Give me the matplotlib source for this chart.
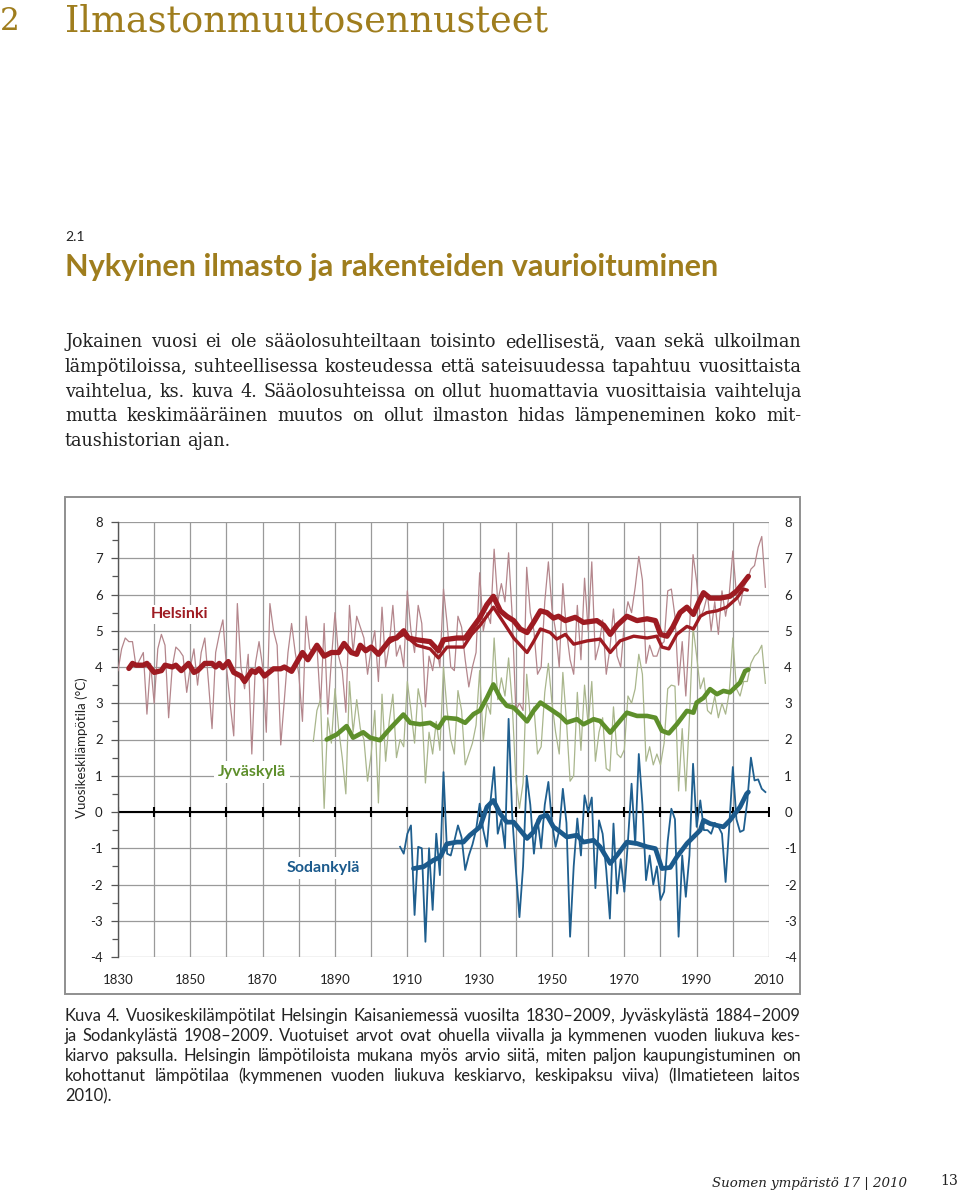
import unicodedata
import numpy as np
import matplotlib
matplotlib.use('Agg')
from matplotlib import pyplot as plt
from matplotlib.patches import Rectangle

plt.rcParams['axes.unicode_minus'] = False

W, H = 960, 1194
GOLD = '#9f7d1d'
TXT = '#222222'

# Helsinki annual mean temperature 1830-2009 (thin line)
hki_annual = [
    3.9, 4.5, 4.8, 4.7, 4.7, 4.0, 4.2, 4.4, 2.7, 4.1,
    3.0, 4.5, 4.9, 4.6, 2.6, 4.0, 4.55, 4.45, 4.3, 3.3,
    4.0, 4.5, 3.5, 4.4, 4.8, 3.6, 2.3, 4.4, 4.9, 5.3,
    4.0, 3.0, 2.1, 5.75, 4.0, 3.4, 4.35, 1.6, 4.1, 4.7,
    4.0, 2.2, 5.75, 5.0, 4.6, 1.85, 3.1, 4.4, 5.2, 4.4,
    3.8, 2.5, 5.4, 4.5, 4.4, 4.6, 2.9, 5.2, 2.7, 4.2,
    5.5, 4.3, 3.9, 2.75, 5.7, 4.4, 5.4, 5.1, 4.8, 3.8,
    4.5, 5.0, 3.6, 5.65, 4.0, 4.6, 5.7, 4.3, 4.6, 4.0,
    6.1, 5.0, 4.4, 5.7, 5.2, 2.9, 4.3, 3.9, 4.6, 4.0,
    6.15, 5.2, 4.0, 3.9, 5.4, 5.1, 4.2, 3.45, 4.0, 4.4,
    6.6, 5.0, 5.5, 5.2, 7.25, 5.8, 6.3, 5.8, 7.15, 5.4,
    2.8, 3.0, 2.8, 6.75, 5.5, 5.0, 3.8, 4.0, 5.8, 6.9,
    5.6, 5.0, 4.0, 6.3, 5.0, 4.2, 3.8, 5.7, 4.2, 6.45,
    5.0, 6.9, 4.2, 4.6, 5.3, 3.8, 4.5, 5.6, 4.3, 4.0,
    5.2, 5.8, 5.5, 6.2, 7.05, 6.4, 4.1, 4.6, 4.3, 4.3,
    4.6, 4.7, 6.1, 6.15, 5.4, 3.5, 4.7, 3.2, 5.0, 7.1,
    6.35, 5.35, 5.6, 6.0, 5.0, 5.8, 4.9, 6.1, 5.4, 6.0,
    7.2, 6.0, 5.7, 6.2, 6.4, 6.7, 6.8, 7.3, 7.6, 6.2,
]
hki_years = np.arange(1830, 1830 + len(hki_annual))

# Helsinki 10-year moving average (thick line)
hki_ma_years = [1833, 1834, 1835, 1837, 1838, 1840, 1842, 1843, 1845, 1846,
                1847.5, 1849.5, 1851, 1852, 1854, 1856, 1857, 1858, 1859, 1860.5,
                1862, 1864, 1865, 1867, 1868, 1869, 1870.5, 1873, 1875, 1876,
                1878, 1881, 1882.5, 1885, 1887, 1889, 1891, 1892.5, 1894.5, 1896,
                1897, 1898.5, 1900, 1902, 1904, 1905.3, 1907, 1909, 1910.3, 1912.6,
                1916.3, 1918.6, 1920, 1923.7, 1926, 1927.8, 1930, 1932, 1933.8, 1935.7,
                1937.5, 1939.4, 1941.2, 1943.1, 1944.9, 1946.8, 1948.6, 1950.4, 1951.8, 1953.7,
                1956.4, 1958.7, 1962.4, 1964.3, 1966.1, 1968, 1970.7, 1973.5, 1976.3, 1978.6,
                1980, 1981.8, 1983.4, 1985.4, 1987.3, 1989.1, 1990.5, 1991.9, 1993.7, 1996.5,
                1999.2, 2001.1, 2002.9, 2004.3]
hki_ma = [3.96, 4.1, 4.05, 4.05, 4.1, 3.85, 3.9, 4.05, 4.0, 4.05,
          3.9, 4.1, 3.85, 3.9, 4.1, 4.1, 4.0, 4.1, 3.98, 4.15,
          3.85, 3.75, 3.6, 3.9, 3.85, 3.95, 3.75, 3.95, 3.95, 4.0,
          3.88, 4.4, 4.2, 4.6, 4.3, 4.4, 4.4, 4.65, 4.4, 4.35,
          4.6, 4.45, 4.55, 4.35, 4.6, 4.77, 4.8, 5.0, 4.8, 4.75,
          4.7, 4.45, 4.75, 4.8, 4.8, 5.05, 5.35, 5.72, 5.95, 5.55,
          5.4, 5.28, 5.05, 4.95, 5.23, 5.55, 5.5, 5.35, 5.4, 5.28,
          5.37, 5.23, 5.28, 5.15, 4.9, 5.15, 5.4, 5.28, 5.33, 5.28,
          4.9, 4.85, 5.1, 5.5, 5.65, 5.45, 5.77, 6.05, 5.9, 5.9,
          5.95, 6.1, 6.32, 6.5]

# Helsinki moving average without urbanisation effect (medium line)
hki_urb_years = [1900, 1902, 1904, 1905.3, 1909, 1912.6, 1916.3, 1918.6, 1921, 1925.5,
                 1927.8, 1930.1, 1933.8, 1936.6, 1939.4, 1943.1, 1944.9, 1946.8, 1949.5, 1951.3,
                 1953.7, 1956, 1959.7, 1963.3, 1966.1, 1968.8, 1972.6, 1976.3, 1979, 1980.4,
                 1982.3, 1984.5, 1987.3, 1989.1, 1991, 1992.8, 1995.6, 1998.3, 2001.1, 2002.9,
                 2004]
hki_urb = [4.55, 4.35, 4.6, 4.7, 4.9, 4.6, 4.5, 4.25, 4.55, 4.55,
           4.9, 5.15, 5.65, 5.23, 4.8, 4.4, 4.7, 5.05, 4.95, 4.77,
           4.9, 4.63, 4.72, 4.77, 4.4, 4.72, 4.85, 4.8, 4.85, 4.55,
           4.5, 4.9, 5.12, 5.05, 5.4, 5.5, 5.55, 5.65, 5.9, 6.15,
           6.12]

# Jyvaskyla annual mean temperature 1884-2009
jyv_annual = [
    1.95, 2.8, 3.1, 0.1, 2.6, 1.9, 3.4, 2.3, 1.5, 0.5,
    3.6, 2.2, 3.1, 2.3, 2.0, 0.85, 1.6, 2.8, 0.25, 3.25,
    1.4, 2.5, 3.25, 1.5, 2.0, 1.8, 3.6, 2.8, 1.9, 3.4,
    2.9, 0.8, 2.2, 1.6, 2.5, 1.7, 4.0, 2.8, 2.0, 1.6,
    3.35, 2.8, 1.3, 1.6, 1.9, 2.4, 3.9, 1.95, 3.0, 2.7,
    4.8, 3.1, 3.7, 3.2, 4.25, 3.0, 0.9, 0.1, 0.8, 3.8,
    2.6, 2.9, 1.6, 1.8, 3.3, 4.1, 3.0, 2.2, 1.6, 3.85,
    2.5, 0.85, 1.0, 3.3, 1.7, 3.5, 2.4, 3.6, 1.4, 2.2,
    2.6, 1.2, 1.13, 2.9, 1.6, 1.5, 1.72, 3.2, 3.0, 3.4,
    4.35, 3.8, 1.4, 1.8, 1.3, 1.6, 1.3, 1.9, 3.4, 3.5,
    3.47, 0.58, 2.3, 0.58, 2.6, 5.1, 4.3, 3.4, 3.7, 2.8,
    2.7, 3.2, 2.6, 3.0, 2.7, 3.3, 4.8, 3.4, 3.2, 3.6,
    3.6, 4.1, 4.3, 4.4, 4.6, 3.55,
]
jyv_years = np.arange(1884, 1884 + len(jyv_annual))

jyv_ma_years = [1887.7, 1890.5, 1893.2, 1895, 1897.8, 1899.7, 1902.4, 1905.2, 1907.1, 1908.9,
                1910.8, 1913.5, 1916.3, 1918.6, 1920.4, 1923.7, 1926, 1928.3, 1930.1, 1932,
                1933.8, 1935.7, 1937.5, 1939.4, 1941.2, 1943.1, 1944.9, 1946.8, 1949.5, 1952.3,
                1954.1, 1956.9, 1958.7, 1961.5, 1963.3, 1966.1, 1968, 1970.7, 1973.5, 1976.3,
                1978.6, 1980.4, 1982.3, 1984.5, 1987.3, 1989.1, 1990, 1991.9, 1993.7, 1995.6,
                1997.4, 1999.2, 2002, 2003.4, 2004.3]
jyv_ma = [2.0, 2.14, 2.37, 2.05, 2.2, 2.05, 1.98, 2.3, 2.5, 2.69,
          2.46, 2.42, 2.46, 2.32, 2.6, 2.57, 2.46, 2.7, 2.8, 3.15,
          3.52, 3.15, 2.93, 2.88, 2.7, 2.5, 2.79, 3.02, 2.84, 2.65,
          2.47, 2.56, 2.42, 2.56, 2.51, 2.19, 2.42, 2.74, 2.65, 2.65,
          2.6, 2.24, 2.17, 2.42, 2.79, 2.74, 3.02, 3.15, 3.39, 3.25,
          3.34, 3.3, 3.57, 3.89, 3.93]

# Sodankyla annual mean temperature 1908-2009
sod_annual = [
    -0.96, -1.15, -0.6, -0.37, -2.84, -0.96, -1.0, -3.58, -1.0, -2.7,
    -0.6, -1.74, 1.1, -1.15, -1.2, -0.8, -0.37, -0.7, -1.6, -1.2,
    -0.9, -0.5, 0.23, -0.5, -0.96, 0.3, 1.24, -0.6, -0.2, -1.0,
    2.57, -0.1, -1.6, -2.9, -1.5, 1.0, 0.2, -1.15, -0.2, -1.0,
    0.2, 0.83, -0.3, -0.96, -0.5, 0.64, -0.3, -3.44, -1.5, -0.18,
    -1.2, 0.46, 0.0, 0.4, -2.1, -0.23, -0.6, -1.6, -2.94, -0.32,
    -2.25, -1.3, -2.2, -0.8, 0.78, -0.9, 1.6, 0.2, -1.88, -1.2,
    -2.0, -1.5, -2.43, -2.2, -0.8, 0.09, -0.2, -3.44, -1.2, -2.34,
    -1.2, 1.33, -0.41, 0.32, -0.5, -0.5, -0.6, -0.3, -0.4, -0.6,
    -1.93, -0.4, 1.24, -0.2, -0.55, -0.5, 0.3, 1.5, 0.87, 0.9,
    0.64, 0.55,
]
sod_years = np.arange(1908, 1908 + len(sod_annual))

sod_ma_years = [1911.7, 1914.5, 1917.2, 1919.1, 1920.9, 1923.7, 1925.5, 1927.3, 1930.1, 1932,
                1933.8, 1935.7, 1937.5, 1939.4, 1941.2, 1943.1, 1944.9, 1946.8, 1948.6, 1950.4,
                1952.3, 1954.1, 1956.9, 1958.7, 1961.5, 1963.3, 1966.1, 1968, 1970.7, 1973.5,
                1976.3, 1978.6, 1980.4, 1982.7, 1984.5, 1987.3, 1989.1, 1991, 1991.9, 1993.7,
                1995.6, 1997.4, 1999.2, 2002, 2003.8, 2004.3]
sod_ma = [-1.56, -1.51, -1.33, -1.24, -0.88, -0.83, -0.83, -0.64, -0.41, 0.14,
          0.32, -0.05, -0.28, -0.28, -0.5, -0.73, -0.55, -0.14, -0.09, -0.41,
          -0.55, -0.69, -0.64, -0.83, -0.78, -0.96, -1.42, -1.19, -0.83, -0.87,
          -0.96, -1.01, -1.56, -1.53, -1.24, -0.87, -0.69, -0.5, -0.23, -0.32,
          -0.37, -0.41, -0.23, 0.14, 0.5, 0.55]

x_ticks = list(range(1830, 2011, 10))
x_labels = [str(y) if (y - 1830) % 20 == 0 else '' for y in x_ticks]
y_ticks = list(range(-4, 9))

body_lines = [
    'Jokainen vuosi ei ole sääolosuhteiltaan toisinto edellisestä, vaan sekä ulkoilman',
    'lämpötiloissa, suhteellisessa kosteudessa että sateisuudessa tapahtuu vuosittaista',
    'vaihtelua, ks. kuva 4. Sääolosuhteissa on ollut huomattavia vuosittaisia vaihteluja',
    'mutta keskimääräinen muutos on ollut ilmaston hidas lämpeneminen koko mit-',
    'taushistorian ajan.',
]
caption_lines = [
    'Kuva 4. Vuosikeskilämpötilat Helsingin Kaisaniemessä vuosilta 1830–2009, Jyväskylästä 1884–2009',
    'ja Sodankylästä 1908–2009. Vuotuiset arvot ovat ohuella viivalla ja kymmenen vuoden liukuva kes-',
    'kiarvo paksulla. Helsingin lämpötiloista mukana myös arvio siitä, miten paljon kaupungistuminen on',
    'kohottanut lämpötilaa (kymmenen vuoden liukuva keskiarvo, keskipaksu viiva) (Ilmatieteen laitos',
    '2010).',
]
body_lines = [unicodedata.normalize('NFC', s) for s in body_lines]
caption_lines = [unicodedata.normalize('NFC', s) for s in caption_lines]


def fx(px):
    return px / W


def fy(py):
    return 1 - py / H


def textWidth(fig, renderer, s, **kw):
    t = fig.text(0, 0, s, **kw)
    w = t.get_window_extent(renderer).width
    t.remove()
    return w


def fitSize(fig, renderer, s, width, size, **kw):
    w = textWidth(fig, renderer, s, fontsize=size, **kw)
    return size * width / w


def fitText(fig, renderer, s, x0, x1, y, size, **kw):
    # scale the font so the text spans x0..x1
    size = fitSize(fig, renderer, s, x1 - x0, size, **kw)
    fig.text(fx(x0), fy(y), s, fontsize=size, ha='left', va='center', **kw)


def justifyLine(fig, renderer, s, x0, x1, y, justify=True, **kw):
    # y is the baseline of the line
    words = s.split(' ')
    widths = [textWidth(fig, renderer, w, **kw) for w in words]
    space = textWidth(fig, renderer, 'a a', **kw) - textWidth(fig, renderer, 'aa', **kw)
    if justify and len(words) > 1:
        gap = (x1 - x0 - sum(widths)) / (len(words) - 1)
    else:
        gap = space
    x = x0
    for w, wd in zip(words, widths):
        fig.text(fx(x), fy(y), w, ha='left', va='baseline', **kw)
        x += wd + gap


fig = plt.figure(figsize=(W / 100, H / 100), dpi=100)
fig.patch.set_facecolor('white')
renderer = fig.canvas.get_renderer()

# page header
fitText(fig, renderer, '2', 0, 20, 22, 30, family='DejaVu Serif', color=GOLD)
fitText(fig, renderer, 'Ilmastonmuutosennusteet', 65, 548, 22, 30,
        family='DejaVu Serif', color=GOLD)
fig.text(fx(65), fy(237), '2.1', fontsize=10, family='Lato', color=TXT,
         ha='left', va='center')
fitText(fig, renderer, 'Nykyinen ilmasto ja rakenteiden vaurioituminen', 65, 717, 267, 19,
        family='Lato', weight='bold', color=GOLD)

body_size = min(fitSize(fig, renderer, line, 728, 12, family='DejaVu Serif')
                for line in body_lines[:3])
body_kw = dict(family='DejaVu Serif', fontsize=body_size, color=TXT)
for i, line in enumerate(body_lines):
    justifyLine(fig, renderer, line, 65, 801, 347 + i * 24.8,
                justify=(i < len(body_lines) - 1), **body_kw)

cap_size = min(fitSize(fig, renderer, line, 728, 12, family='Lato')
               for line in caption_lines[:4])
cap_kw = dict(family='Lato', fontsize=cap_size, color=TXT)
for i, line in enumerate(caption_lines):
    justifyLine(fig, renderer, line, 65, 801, 1021 + i * 20,
                justify=(i < len(caption_lines) - 1), **cap_kw)

fitText(fig, renderer, 'Suomen ympäristö 17 | 2010', 712, 908, 1183, 11,
        family='DejaVu Serif', style='italic', color=TXT)
fitText(fig, renderer, '13', 940, 958, 1181, 12, family='DejaVu Serif', color=TXT)

# chart frame
fig.patches.append(Rectangle((fx(65), fy(994)), (800 - 65) / W, (994 - 497) / H,
                             transform=fig.transFigure, fill=False,
                             ec='#8f8f8f', lw=1.4))

ax = fig.add_axes([fx(118), fy(957), (769 - 118) / W, (957 - 522) / H])
ax.set_xlim(1830, 2010)
ax.set_ylim(-4, 8)
ax.set_facecolor('none')
for side in ['top', 'right', 'bottom']:
    ax.spines[side].set_visible(False)
ax.spines['left'].set_color('#555555')
ax.spines['left'].set_linewidth(1.0)

ax.set_xticks(x_ticks)
ax.set_xticklabels(x_labels)
ax.set_yticks(y_ticks)
ax.set_yticks(np.arange(-3.5, 8, 1.0), minor=True)
ax.tick_params(axis='x', length=0, pad=12, labelsize=9.5, labelcolor=TXT)
ax.tick_params(axis='y', which='major', length=5, width=0.9, color='#555555',
               labelsize=9.5, labelcolor=TXT, pad=6, labelright=True, right=False)
ax.tick_params(axis='y', which='minor', length=4, width=0.9, color='#555555', right=False)
for lab in ax.get_xticklabels() + ax.get_yticklabels():
    lab.set_family('Lato')
ax.grid(True, which='major', color='#9a9a9a', lw=0.9)
ax.set_axisbelow(True)

ax.axhline(0, color='black', lw=1.5, zorder=2)
ax.plot(x_ticks, np.zeros(len(x_ticks)), ls='none', marker='|', ms=7, mew=1.5,
        color='black', zorder=2)

# thin annual lines
ax.plot(hki_years, hki_annual, color='#b4868c', lw=0.9, zorder=3)
ax.plot(jyv_years, jyv_annual, color='#a9b68c', lw=0.9, zorder=3)
ax.plot(sod_years, sod_annual, color='#1f5f8f', lw=1.3, zorder=3)

# moving averages
ax.plot(hki_urb_years, hki_urb, color='#9e1b22', lw=2.4, zorder=4,
        solid_capstyle='round')
ax.plot(hki_ma_years, hki_ma, color='#9e1b22', lw=3.8, zorder=5,
        solid_capstyle='round', solid_joinstyle='round')
ax.plot(jyv_ma_years, jyv_ma, color='#5e8f2b', lw=3.3, zorder=5,
        solid_capstyle='round', solid_joinstyle='round')
ax.plot(sod_ma_years, sod_ma, color='#1b5a8c', lw=3.4, zorder=5,
        solid_capstyle='round', solid_joinstyle='round')

lab_kw = dict(family='Lato', weight='bold', fontsize=11.5, va='center', ha='left', zorder=6)
ax.text(1839, 5.45, 'Helsinki', color='#9e1b22',
        bbox=dict(fc='white', ec='none', pad=2), **lab_kw)
ax.text(1857.7, 1.1, 'Jyväskylä', color='#5e8f2b',
        bbox=dict(fc='white', ec='none', pad=3), **lab_kw)
ax.text(1876.5, -1.55, 'Sodankylä', color='#1b5a8c',
        bbox=dict(fc='white', ec='none', pad=3), **lab_kw)

fig.text(fx(82), fy(748), 'Vuosikeskilämpötila (°C)', rotation=90, family='Lato',
         fontsize=9.5, color=TXT, ha='center', va='center')

fig.savefig('out.png', dpi=100, facecolor='white')
